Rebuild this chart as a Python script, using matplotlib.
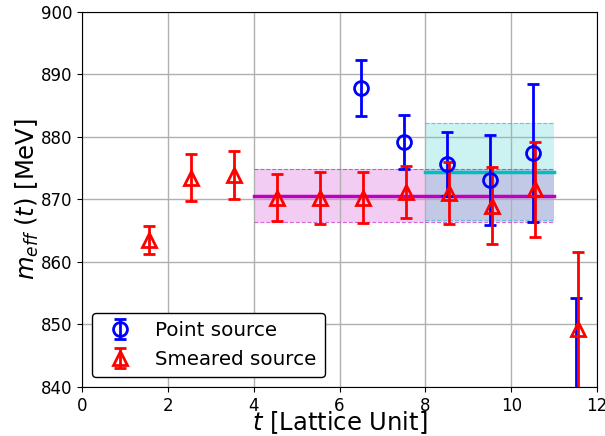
import numpy as np
import matplotlib
matplotlib.use("Agg")
import matplotlib.pyplot as plt

# point source
t_point = [6.5, 7.5, 8.5, 9.5, 10.5, 11.5]
m_point = [887.8, 879.2, 875.7, 873.1, 877.4, 835.0]
e_point = [4.5, 4.3, 5.1, 7.2, 11.0, 19.2]

# smeared source
t_smear = [1.55, 2.55, 3.55, 4.55, 5.55, 6.55, 7.55, 8.55, 9.55, 10.55, 11.55]
m_smear = [863.5, 873.5, 873.9, 870.3, 870.2, 870.3, 871.2, 871.0, 869.0, 871.6, 849.3]
e_smear = [2.2, 3.7, 3.9, 3.8, 4.2, 4.1, 4.2, 5.0, 6.2, 7.6, 12.3]

# fit bands: (t_min, t_max, value, error)
fit_point = (8, 11, 874.45, 7.75)
fit_smear = (4, 11, 870.6, 4.25)

plt.rcParams["mathtext.fontset"] = "dejavusans"
fig, ax = plt.subplots(figsize=(6.05, 4.36), dpi=100)
fig.subplots_adjust(left=0.1355, right=0.987, bottom=0.1124, top=0.9725)

for (t0, t1, v, e), c in [(fit_smear, "m"), (fit_point, "c")]:
    ax.fill_between([t0, t1], [v - e] * 2, [v + e] * 2, color=c, alpha=0.2, lw=0)
    ax.plot([t0, t1], [v + e] * 2, color=c, ls="--", lw=0.8, alpha=0.6)
    ax.plot([t0, t1], [v - e] * 2, color=c, ls="--", lw=0.8, alpha=0.6)
    ax.plot([t0, t1], [v] * 2, color=c, lw=2.5)

ax.errorbar(t_point, m_point, yerr=e_point, fmt="o", color="b", mfc="none",
            ms=10, mew=2, elinewidth=2, capsize=4, capthick=2, label="Point source")
ax.errorbar(t_smear, m_smear, yerr=e_smear, fmt="^", color="r", mfc="none",
            ms=10, mew=2, elinewidth=2, capsize=4, capthick=2, label="Smeared source")

ax.set_xlim(0, 12)
ax.set_ylim(840, 900)
ax.grid(True, color="#b0b0b0", lw=1)
ax.tick_params(labelsize=12)
ax.set_xlabel("$t$ [Lattice Unit]", fontsize=17.5, labelpad=-4)
ax.set_ylabel("$m_{eff}$ $(t)$ [MeV]", fontsize=17.5, labelpad=0)
leg = ax.legend(loc="lower left", fontsize=14.3, edgecolor="black", framealpha=1,
                borderaxespad=0.5)
leg.get_frame().set_linewidth(1)

fig.savefig("out.png", dpi=100)
